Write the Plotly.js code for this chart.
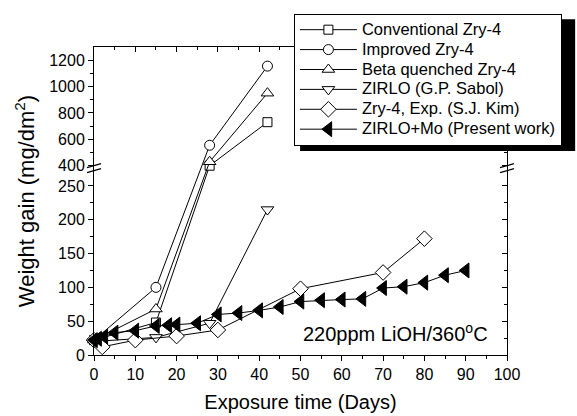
<!DOCTYPE html>
<html>
<head>
<meta charset="utf-8">
<script src="https://cdn.plot.ly/plotly-3.0.1.min.js"></script>
<style>html,body{margin:0;padding:0;background:#fff;}</style>
</head>
<body>
<div id="chart" style="width:577px;height:416px;"></div>
<script>
// ---------------- data ----------------
const convDays = [0, 15, 28, 42];
const convGain = [22, 48, 400, 730];

const improvedDays = [0, 15, 28, 42];
const improvedGain = [22, 100, 555, 1155];

const betaDays = [0, 15, 28, 42];
const betaGain = [22, 68, 430, 950];

const zirloDays = [0, 15, 28, 42];
const zirloGain = [20, 26, 47, 215];

const kimDays = [0, 2, 10, 20, 30, 50, 70, 80];
const kimGain = [22, 12, 22, 28, 37, 98, 122, 172];

const moDays = [0, 1, 2.5, 5, 10, 15, 18, 20, 25, 30, 35, 40, 45, 50, 55, 60, 65, 70, 75, 80, 85, 90];
const moGain = [22, 24, 27, 33, 36, 43, 44, 45, 47, 60, 62, 66, 71, 79, 81, 82, 83, 99, 101, 107, 118, 125];

const seriesNames = [
  "Conventional Zry-4",
  "Improved Zry-4",
  "Beta quenched Zry-4",
  "ZIRLO (G.P. Sabol)",
  "Zry-4, Exp. (S.J. Kim)",
  "ZIRLO+Mo (Present work)"
];

const lowerTicks = [0, 50, 100, 150, 200, 250];
const upperTicks = [400, 600, 800, 1000, 1200];
const lowerMinor = [25, 75, 125, 175, 225];
const upperMinor = [500, 700, 900, 1100];
const xTicks = [0, 10, 20, 30, 40, 50, 60, 70, 80, 90, 100];

// ---------------- broken y-axis mapping ----------------
const BREAK_LOW = 275;   // top of lower segment
const BREAK_HIGH = 375;  // bottom of upper segment
const UPPER_SCALE = 0.195;
const Y_TOP = 1300;
function ty(v) { return v <= 300 ? v : BREAK_LOW + (v - BREAK_HIGH) * UPPER_SCALE; }
const tmap = a => a.map(ty);

const FONT = "Liberation Sans, Arial, Helvetica, sans-serif";
const lg = s => '<span style="font-size:16.5px">' + s + '</span>';

function mk(x, y, name, symbol, size, filled) {
  return {
    type: 'scatter', mode: 'lines+markers', x: x, y: tmap(y), name: lg(name),
    line: {color: '#000', width: 1},
    marker: {symbol: symbol, size: size, color: filled ? '#000' : '#fff',
             line: {color: '#000', width: 1}},
    cliponaxis: false
  };
}

const traces = [
  mk(convDays, convGain, seriesNames[0], 'square', 9, false),
  mk(improvedDays, improvedGain, seriesNames[1], 'circle', 10, false),
  mk(betaDays, betaGain, seriesNames[2], 'triangle-up', 11, false),
  mk(zirloDays, zirloGain, seriesNames[3], 'triangle-down', 11, false),
  mk(kimDays, kimGain, seriesNames[4], 'diamond', 12, false),
  mk(moDays, moGain, seriesNames[5], 'triangle-left', 13, true),
  {type: 'scatter', x: [], y: [], xaxis: 'x2', yaxis: 'y2', showlegend: false, hoverinfo: 'skip'}
];

const yTickVals = tmap(lowerTicks.concat(upperTicks));
const yTickText = lowerTicks.concat(upperTicks).map(String);
const yMinorVals = tmap(lowerMinor.concat(upperMinor));
const yRange = [0, ty(Y_TOP)];
const breakT = BREAK_LOW + 2;

function breakMarks(xa) {
  const common = {type: 'line', xref: 'paper', yref: 'y', xsizemode: 'pixel', ysizemode: 'pixel',
                  xanchor: xa, yanchor: breakT, line: {color: '#000', width: 1.2}, layer: 'above'};
  return [
    Object.assign({}, common, {x0: -7, x1: 7, y0: -5, y1: -1}),
    Object.assign({}, common, {x0: -7, x1: 7, y0: 0, y1: 4})
  ];
}

const layout = {
  width: 577, height: 416,
  margin: {l: 94, r: 70, t: 47, b: 61},
  paper_bgcolor: '#fff', plot_bgcolor: '#fff',
  font: {family: FONT, color: '#000', size: 16},
  showlegend: true,
  xaxis: {
    range: [0, 100], tickvals: xTicks, ticks: 'outside', ticklen: 5, tickwidth: 1, tickcolor: '#000',
    minor: {dtick: 5, tick0: 0, ticks: 'outside', ticklen: 3, tickcolor: '#000'},
    showline: true, linecolor: '#000', linewidth: 1, mirror: true,
    showgrid: false, zeroline: false, tickfont: {size: 16},
    title: {text: 'Exposure time (Days)', font: {size: 20}, standoff: 12}
  },
  yaxis: {
    range: yRange, tickmode: 'array', tickvals: yTickVals, ticktext: yTickText,
    ticks: 'outside', ticklen: 5, tickwidth: 1, tickcolor: '#000',
    minor: {tickmode: 'array', tickvals: yMinorVals, ticks: 'outside', ticklen: 3, tickcolor: '#000'},
    showline: true, linecolor: '#000', linewidth: 1, mirror: true,
    showgrid: false, zeroline: false, tickfont: {size: 16},
    title: {text: 'Weight gain (mg/dm<sup>2</sup>)', font: {size: 22}, standoff: 8}
  },
  xaxis2: {
    overlaying: 'x', side: 'top', anchor: 'y', range: [0, 100], tickvals: xTicks,
    ticks: 'inside', ticklen: 5, tickcolor: '#000', showticklabels: false,
    minor: {dtick: 5, tick0: 0, ticks: 'inside', ticklen: 3, tickcolor: '#000'},
    showline: false, showgrid: false, zeroline: false
  },
  yaxis2: {
    overlaying: 'y', side: 'right', anchor: 'x', range: yRange, tickmode: 'array', tickvals: yTickVals,
    ticks: 'inside', ticklen: 5, tickcolor: '#000', showticklabels: false,
    minor: {tickmode: 'array', tickvals: yMinorVals, ticks: 'inside', ticklen: 3, tickcolor: '#000'},
    showline: false, showgrid: false, zeroline: false
  },
  legend: {
    x: 0.484, y: 1.108, xanchor: 'left', yanchor: 'top',
    bgcolor: '#fff', bordercolor: '#000', borderwidth: 1,
    font: {size: 13, family: FONT}, itemwidth: 57, tracegroupgap: 0
  },
  annotations: [{
    text: '220ppm LiOH/360<sup>o</sup>C', xref: 'x', yref: 'y', x: 73, y: 33,
    xanchor: 'center', yanchor: 'middle', showarrow: false, font: {size: 20}
  }],
  shapes: breakMarks(0).concat(breakMarks(1)).concat([
    {type: 'rect', xref: 'paper', yref: 'paper', x0: 0.499, x1: 1.165, y0: 0.662, y1: 1.09,
     fillcolor: '#000', line: {width: 0}, layer: 'above'}
  ])
};

Plotly.newPlot('chart', traces, layout, {displayModeBar: false, staticPlot: true});
</script>
</body>
</html>
